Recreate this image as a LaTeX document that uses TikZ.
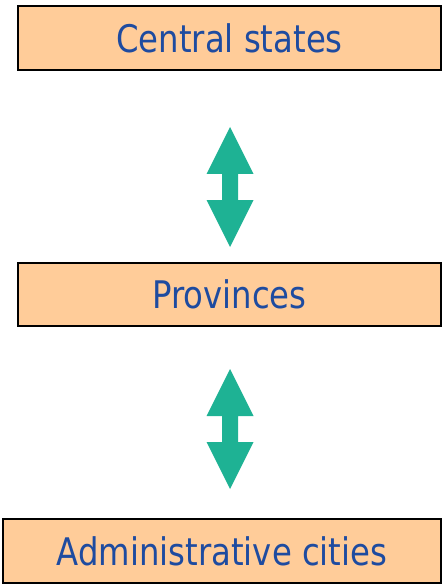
\documentclass[tikz,border=0pt]{standalone}
\usepackage{fontspec}
\newfontfamily\boxfont[FakeStretch=0.85]{DejaVu Sans}
\definecolor{peach}{RGB}{255,204,153}
\definecolor{txtblue}{RGB}{30,75,160}
\definecolor{teal2}{RGB}{30,178,148}
\begin{document}
\begin{tikzpicture}[x=1pt,y=-1pt,
  levelbox/.style={draw=black,line width=2pt,fill=peach,text=txtblue,
    font=\boxfont\fontsize{38}{44}\selectfont,inner sep=0pt},
  dblarrow/.style={fill=teal2,draw=none}]
\useasboundingbox (0,0) rectangle (444,585);
\node[levelbox,minimum width=423pt,minimum height=64pt] (central) at (229.5,38) {Central states};
\node[levelbox,minimum width=423pt,minimum height=63pt] (prov) at (229.5,294.5) {Provinces};
\node[levelbox,minimum width=438pt,minimum height=64pt] (admin) at (222,551) {Administrative cities};
\coordinate (a1) at (230,127);
\coordinate (a2) at (230,369);
\foreach \c in {a1,a2}{
  \fill[dblarrow] (\c) -- ++(23.5,47) -- ++(-15.5,0) -- ++(0,26) -- ++(15.5,0)
    -- ++(-23.5,47) -- ++(-23.5,-47) -- ++(15.5,0) -- ++(0,-26) -- ++(-15.5,0) -- cycle;
}
\end{tikzpicture}
\end{document}
